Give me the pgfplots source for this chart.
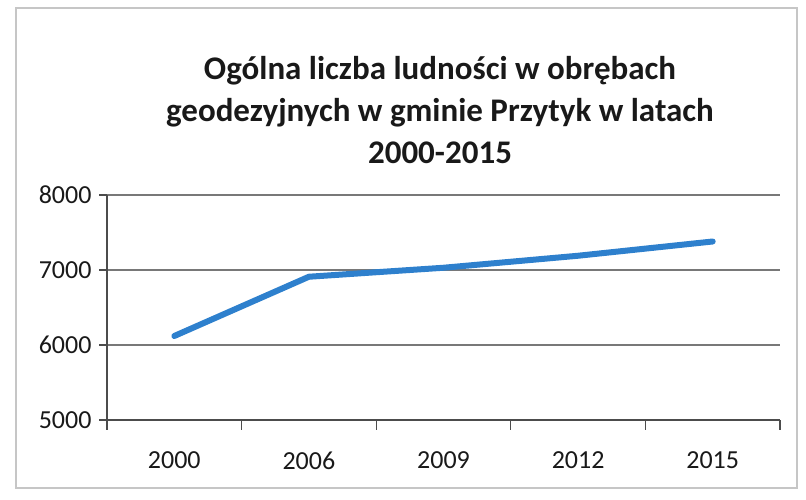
\documentclass[border=0pt]{standalone}
\usepackage{pgfplots}
\pgfplotsset{compat=1.18}
\usepackage{fontspec}
\setmainfont{Carlito}
\definecolor{lineblue}{RGB}{46,128,205}
\definecolor{gridgray}{RGB}{120,120,120}
\begin{document}
\begin{tikzpicture}[x=1bp,y=1bp]
\path (0,0) rectangle (806,500);
\draw[gray!45, line width=1.2bp] (16,12) rectangle (797,492);
\node[align=center, font=\fontsize{33bp}{42bp}\selectfont\bfseries, text=black!90] at (440,390)
  {Ogólna liczba ludności w obrębach\\geodezyjnych w gminie Przytyk w latach\\2000-2015};
\begin{axis}[
  at={(107bp,80bp)}, anchor=south west,
  scale only axis, width=673bp, height=225bp,
  xmin=-0.5, xmax=4.5, ymin=5000, ymax=8000,
  xtick={0,1,2,3,4},
  xticklabels={2000,2006,2009,2012,2015},
  minor xtick={-0.5,0.5,1.5,2.5,3.5,4.5},
  ytick={5000,6000,7000,8000},
  ymajorgrids,
  grid style={gridgray, line width=1.1bp},
  axis x line*=bottom, axis y line*=left,
  axis line style={black!70, line width=1.1bp},
  x axis line style={-}, y axis line style={-},
  major x tick style={draw=none},
  minor x tick style={black!70, line width=1.1bp},
  y tick style={black!70, line width=1.1bp},
  tick align=outside,
  major tick length=8bp, minor tick length=10bp,
  tick label style={font=\fontsize{26bp}{30bp}\selectfont, text=black!90},
  /pgf/number format/assume math mode=true,
  /pgf/number format/1000 sep={},
  xticklabel style={yshift=-20bp},
  yticklabel style={xshift=-4bp},
  clip=false,
]
\addplot[lineblue, line width=6bp, line join=round, line cap=round] coordinates {
  (0,6120) (1,6910) (2,7030) (3,7190) (4,7380)
};
\end{axis}
\end{tikzpicture}
\end{document}
